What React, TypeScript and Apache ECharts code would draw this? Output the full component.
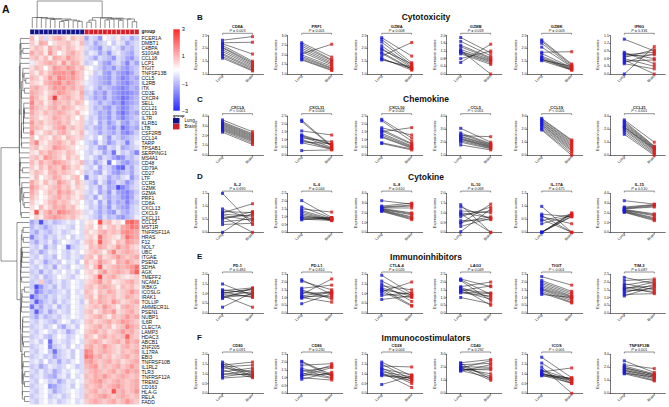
import React, { useEffect, useRef } from 'react';
import * as echarts from 'echarts';

const FONT = '"Liberation Sans", Arial, Helvetica, sans-serif';
const BLUE_PT = '#1c1ce0';
const RED_PT = '#e21c1c';
const SCALE_COLORS = ['#2a2aff', '#ffffff', '#ff2a2a'];

// ---------- Panel A : heatmap ----------
const genes = [
  'FCER1A', 'DMBT1', 'C4BPA', 'S100A8', 'CCL18', 'LCP1', 'TIGIT', 'TNFSF13B', 'CCL5', 'IL2RB',
  'ITK', 'CD3E', 'CXCR4', 'SELL', 'CCL21', 'CCL19', 'IL7R', 'KLRB1', 'LTB', 'CSF2RB',
  'CCL14', 'TARP', 'TPSAB1', 'SERPING1', 'MS4A1', 'CD48', 'CD79A', 'CD27', 'LTF', 'CCR5',
  'GZMK', 'GZMA', 'PRF1', 'CD8A', 'CXCL13', 'CXCL9', 'CXCL11', 'CCL15', 'MST1R', 'TNFRSF11A',
  'HRAS', 'F12', 'NOL7', 'UBC', 'ITGAE', 'PSEN2', 'SDHA', 'AGK', 'TMEFF2', 'NCAM1',
  'IKBKG', 'ICOSLG', 'IRAK1', 'TOLLIP', 'AMMECR1L', 'PSEN1', 'NUBP1', 'IL6R', 'CLEC7A', 'LAMP3',
  'HDAC3', 'ABCB1', 'ZNF205', 'IL17RA', 'EBI3', 'TNFRSF10B', 'IL1RL2', 'TLR3', 'TNFRSF12A', 'TREM2',
  'CD163', 'HLA-G', 'RELA', 'FADD',
];

const sampleNames = [
  'L1', 'L2', 'L3', 'L4', 'L5', 'L6', 'L7', 'L8', 'L9', 'L10', 'L11', 'L12',
  'B1', 'B2', 'B3', 'B4', 'B5', 'B6', 'B7', 'B8', 'B9', 'B10', 'B11', 'B12',
];
const sampleGroups = [
  'Lung', 'Lung', 'Lung', 'Lung', 'Lung', 'Lung', 'Lung', 'Lung', 'Lung', 'Lung', 'Lung', 'Lung',
  'Brain', 'Brain', 'Brain', 'Brain', 'Brain', 'Brain', 'Brain', 'Brain', 'Brain', 'Brain', 'Brain', 'Brain',
];
const scaleTicks = [-3, -1, 1, 3];

// one letter per cell: a = -3 ... m = 0 ... y = +3 (steps of 0.25); first 12 = lung, last 12 = brain
const LEVELS = 'abcdefghijklmnopqrstuvwxy';
const heatRows = [
  'qmpkoqrpnqop hkjgmlknjkhj', 'pnrqmoppqonq jkhjkmjlkhjk', 'oqpnrpqoqpno kjigkjlkhjik', 'rpqnspmoqrpo jlkhjgkljihk',
  'pqoqnrqpsqpo kjhkjigkjhgj', 'lopqrqosprqo jkmjhgjkifjh', 'oqpmpsrqsrpq nmkjhigjhgij', 'pnqoqsssrtqp mnjkhgjhgfhj',
  'qpnpsqtsrsqp mkjihgjhfgih', 'ponqrstqsrpo lkjihgjhgfhi', 'qrpoqsrsqrpq kljhjihgfgih', 'rqpnpqsrqpor jkhigjhgffgh',
  'sqonqxpqrpoq kjhigjhgefhi', 'tpqnprqpqoqp mkjhjigheghi', 'sqpoqrprqpno nkijhgjhfgij', 'rpoqpqrqpoqn mkjhigjgegih',
  'qpnoprqpqomp ljkhigjhfhij', 'spqopqrpqnop kjlhjgikhgji', 'rqpnoqrspqop jkihjhgjegih', 'tonpqoqrpnoq lkjhjihjgfhj',
  'qmponqpnqpop kljmjgkjhijk', 'qtonpqrpoqnm kjhljgikjfjl', 'pqnopsrqpomn ljkhgkjlhijk', 'onqprqpoqpnm kjlkhjeljkif',
  'pqosrqpnqopm kljhkjhfgjik', 'qorpqsrqpnoq jkhjlemjhgij', 'pnqorqpsqopn kjlhkjhedjhk', 'oqpnqrpqpomo jkihljhgijhk',
  'nqmoprqonpqm fkjlkhjiklgj', 'rpnqopsqpnqo kjhljgikjgik', 'sqonpqrpqnpo ljkhkhicfhjk', 'rpmoqpsqrpno kjlhjgkhgfhj',
  'qomnpqrpqonp jkhljhjigfhk', 'pnmoqrpqpnom kjlhkgjhifij', 'omqnprqrpqnm ljkhjgkihgjk', 'nwoqsqtsrqpo kljhjhgkihjk',
  'mpnqrsrqpqon lkjhkijhgijl',
  'hjcjkijklkmk nomwpqnomuvt', 'ikjhjkllkjmk opmqnpqorsut', 'jhkjikljklmk pnoqrpqpstsr', 'fjkikjlkmjlk opnuqponqusr',
  'jhkjlikmlkjl pqovqpnqpsrq', 'kjlhkjmlejkl nqprqopsqrpo', 'jkhjlkmkjlkm opqpnqtpqrqp', 'kjljkimkjlkj pqnropqsqpqr',
  'jlkhjkjmkljm qopsqpnrqsqp', 'kjljkhlkjmlk pnqvopqrqrsu', 'jkhkjlkmkljm opnqspqrqpsv', 'kjlijkmlkjlm noqwpqrponop',
  'jkpjikljkmlk opqspqnopqrp', 'jcgjkiljkmlk pqoqrqpnqpqo', 'kehjijkljmkl qpnqprqopqsq', 'dhjikjlkjmlk pqnrqpqoprqp',
  'jdhjkiljkmlj nqprqpsqopqr', 'ejhkjlikjmlk opqpsqpnqrqp', 'jdikhjlkjmlk pqnprqsopqrp', 'jhkijkjlkmlk opqrpnqpqsqr',
  'kjlkjikmljkl pqopqrpqsrqp', 'jkljkmjhkljm opqrpqnpqtrq', 'kjlmkjlkhjlm pqrpqopqsqrp', 'jkljikmljkml qpnqrpqpqvqp',
  'kljmeklkjlmk pqrqopqrpsqr', 'jklmfjkljmkl qrpqsqpoqrpq', 'kjlmjejkljmk tspqrqpoqpqr', 'jkljkhjkljmk utqrpqopqrpq',
  'kljmjkhkjlmk rsqpqrpqopqr', 'jkhjlkjkmljk qrspqpqrpqsq', 'kjljkhjlkmlk pqrqpqrpqsqr', 'jkljihkljmkl qprqsqpqrqpq',
  'kjmljkhjlkml pqrsqpqrqpqr', 'jklmghjkljmk qpqrpqrsqpqr', 'kjlmkhjklmlk pqrpqpwqrpqs', 'jklmjkljkmlk qpqrsqpqrqpq',
  'kjlmkljklmkl pqrqpqrpqsqp',
];

// ---------- Panels B-F ----------
const rowLetters = ['B', 'C', 'D', 'E', 'F'];
const rowTitles = ['Cytotoxicity', 'Chemokine', 'Cytokine', 'Immunoinhibitors', 'Immunocostimulators'];
const panelGenes = [
  ['CD8A', 'PRF1', 'GZMA', 'GZMB', 'GZMK', 'IFNG'],
  ['CXCL9', 'CXCL11', 'CXCL10', 'CCL5', 'CCL19', 'CCL21'],
  ['IL-2', 'IL-6', 'IL-8', 'IL-10', 'IL-17A', 'IL-15'],
  ['PD-1', 'PD-L1', 'CTLA-4', 'LAG3', 'TIGIT', 'TIM-3'],
  ['CD80', 'CD86', 'CD28', 'CD40', 'ICOS', 'TNFSF13B'],
];
const panelP = [
  ['= 0.003', '= 0.001', '= 0.008', '= 0.018', '= 0.003', '= 0.336'],
  ['< 0.001', '= 0.004', '= 0.002', '< 0.001', '< 0.001', '< 0.001'],
  ['= 0.690', '= 0.044', '= 0.610', '= 0.068', '= 0.675', '= 0.510'],
  ['= 0.484', '= 0.810', '= 0.026', '= 0.049', '< 0.001', '= 0.087'],
  ['= 0.091', '= 0.230', '= 0.004', '= 0.292', '< 0.001', '= 0.001'],
];
// [min, max, interval]
const panelAxes = [
  [[1, 2.5, 0.5], [1, 3, 0.5], [1, 2.5, 0.5], [0, 2, 0.4], [1, 2.5, 0.5], [0, 1.5, 0.3]],
  [[0, 4, 1], [0, 2.5, 0.5], [0, 2.5, 0.5], [1, 4, 1], [0, 3, 1], [0, 3, 1]],
  [[0, 1.5, 0.5], [0, 2.5, 0.5], [0, 4, 1], [0, 2, 0.5], [0, 1.5, 0.5], [0, 4, 1]],
  [[0, 2, 0.5], [0, 2.5, 0.5], [0, 2, 0.5], [0, 2.5, 0.5], [0, 2.5, 0.5], [0, 2.5, 0.5]],
  [[0, 2, 0.5], [0, 2.5, 0.5], [0, 2, 0.5], [0, 3, 1], [0, 2, 0.5], [0, 3, 1]],
];

const lungB = [
  [2.32, 2.22, 2.18, 2.12, 2.05, 2.02, 1.95, 1.88, 1.80, 1.75, 1.68, 1.62],
  [2.63, 2.55, 2.45, 2.35, 2.25, 2.15, 2.05, 2.0, 1.92, 1.85, 1.78, 1.73],
  [2.42, 2.35, 2.25, 2.1, 2.0, 1.95, 1.85, 1.8, 1.7, 1.62, 1.58, 1.55],
  [1.90, 1.70, 1.50, 1.42, 1.28, 1.22, 1.18, 1.15, 1.10, 1.05, 0.80, 0.60],
  [2.33, 2.28, 2.20, 2.05, 1.85, 1.80, 1.70, 1.65, 1.60, 1.58, 1.55, 1.52],
  [1.36, 0.85, 0.80, 0.75, 0.70, 0.65, 0.60, 0.55, 0.50, 0.45, 0.40, 0.0],
];
const brainB = [
  [2.46, 2.24, 1.78, 1.50, 1.45, 1.40, 1.35, 1.30, 1.25, 1.20, 1.15, 1.12],
  [1.88, 1.75, 1.70, 1.62, 1.55, 1.48, 2.55, 1.40, 1.32, 1.28, 1.22, 1.18],
  [1.70, 1.44, 1.35, 1.30, 1.25, 1.40, 1.20, 1.18, 2.23, 1.15, 1.22, 1.28],
  [1.10, 0.95, 0.85, 0.80, 0.75, 0.0, 0.70, 0.65, 0.58, 0.50, 1.20, 1.55],
  [1.39, 1.35, 1.30, 1.28, 1.87, 1.25, 1.22, 1.20, 1.18, 1.16, 1.30, 1.15],
  [0.90, 0.40, 0.60, 0.85, 0.75, 0.95, 0.30, 0.0, 0.55, 0.80, 0.20, 1.07],
];
const lungC = [
  [3.6, 3.4, 3.3, 3.2, 3.1, 3.0, 2.9, 2.8, 2.7, 2.6, 2.5, 2.35],
  [2.24, 2.15, 1.55, 1.30, 1.25, 1.20, 1.10, 1.0, 0.95, 0.85, 0.80, 0.30],
  [2.29, 2.20, 1.75, 1.65, 1.55, 1.50, 1.40, 1.30, 1.20, 1.15, 0.80, 0.75],
  [3.06, 2.70, 2.60, 2.50, 2.45, 2.40, 2.30, 2.25, 2.20, 2.10, 2.0, 1.79],
  [2.82, 2.75, 2.65, 2.6, 2.5, 2.45, 2.35, 2.3, 2.2, 2.1, 2.0, 1.93],
  [2.7, 2.6, 2.5, 2.4, 2.3, 2.2, 2.15, 2.1, 2.0, 1.9, 1.75, 1.6],
];
const brainC = [
  [2.4, 2.2, 2.1, 2.0, 1.9, 1.8, 1.7, 1.6, 1.5, 1.4, 1.25, 1.1],
  [0.60, 0.55, 1.29, 0.70, 0.65, 0.50, 0.87, 0.45, 0.40, 0.75, 0.38, 0.34],
  [1.10, 0.90, 1.29, 0.75, 0.70, 1.76, 0.60, 0.55, 0.50, 0.45, 0.40, 0.34],
  [2.0, 1.9, 1.85, 2.42, 1.8, 1.75, 1.7, 1.65, 1.6, 1.55, 1.5, 1.41],
  [1.17, 1.1, 1.0, 0.9, 0.8, 0.7, 0.6, 0.5, 0.4, 0.3, 0.15, 0.0],
  [1.0, 0.7, 0.65, 0.6, 0.55, 0.5, 0.45, 0.4, 0.3, 0.2, 0.1, 0.0],
];
const lungD = [
  [1.5, 0.9, 0.8, 0.75, 0.7, 0.65, 0.6, 0.55, 0.5, 0.4, 0.3, 0.0],
  [2.04, 1.63, 1.50, 1.40, 1.30, 1.20, 1.10, 1.0, 0.95, 0.9, 0.85, 0.8],
  [3.25, 2.70, 2.60, 2.55, 2.50, 2.45, 2.40, 2.35, 2.30, 2.25, 2.20, 2.15],
  [1.42, 1.30, 1.10, 1.00, 0.95, 0.90, 0.80, 0.60, 0.50, 0.45, 0.30, 0.03],
  [1.0, 0.70, 0.65, 0.60, 0.50, 0.45, 0.33, 0.0, 0.0, 0.0, 0.0, 0.0],
  [3.25, 2.6, 2.5, 2.45, 2.4, 2.35, 2.3, 2.25, 2.2, 2.15, 2.1, 2.05],
];
const brainD = [
  [0.30, 0.50, 0.76, 1.10, 0.62, 0.45, 0.0, 0.68, 0.80, 0.52, 0.35, 0.75],
  [0.95, 0.90, 1.30, 0.85, 0.80, 0.78, 0.75, 0.92, 0.88, 0.82, 0.76, 0.95],
  [2.9, 3.0, 2.8, 2.7, 2.5, 2.0, 1.9, 1.8, 1.6, 1.5, 1.4, 1.3],
  [0.0, 0.70, 1.00, 0.75, 0.0, 1.10, 1.30, 0.65, 0.80, 1.45, 0.72, 1.20],
  [0.0, 0.60, 0.0, 0.33, 0.0, 0.70, 0.65, 0.75, 0.60, 0.72, 0.68, 0.62],
  [2.9, 2.85, 2.8, 2.7, 2.6, 1.9, 1.8, 1.7, 1.5, 1.4, 1.3, 1.2],
];
const lungE = [
  [1.5, 1.2, 1.15, 1.1, 1.05, 1.0, 0.95, 0.9, 0.85, 0.8, 0.75, 0.3],
  [2.15, 2.05, 1.6, 1.5, 1.4, 1.3, 1.2, 1.1, 1.05, 1.0, 0.95, 0.6],
  [1.95, 1.65, 1.5, 1.4, 1.3, 1.25, 1.2, 1.15, 1.1, 1.0, 0.9, 0.7],
  [2.2, 2.15, 2.1, 1.7, 1.65, 1.6, 1.5, 1.45, 1.4, 1.35, 1.3, 1.0],
  [2.35, 2.1, 2.0, 1.9, 1.8, 1.7, 1.6, 1.55, 1.5, 1.4, 1.3, 1.2],
  [2.3, 2.1, 1.9, 1.8, 1.7, 1.6, 1.55, 1.5, 1.4, 1.3, 1.2, 1.1],
];
const brainE = [
  [0.9, 1.0, 1.3, 0.8, 1.2, 1.25, 0.85, 0.3, 1.1, 0.95, 1.28, 1.05],
  [1.2, 1.5, 1.8, 0.9, 1.0, 1.3, 2.2, 1.4, 1.1, 0.7, 1.35, 1.25],
  [1.0, 0.9, 0.6, 1.2, 0.85, 0.4, 0.95, 0.35, 1.6, 0.8, 1.05, 0.88],
  [1.7, 1.2, 0.8, 2.0, 1.0, 0.5, 1.3, 1.75, 0.9, 1.25, 1.1, 0.6],
  [1.8, 1.4, 1.3, 1.2, 1.1, 1.05, 1.0, 0.9, 0.8, 0.7, 0.65, 1.0],
  [1.9, 2.2, 1.5, 2.1, 1.3, 1.75, 2.0, 1.4, 1.6, 1.85, 1.25, 1.7],
];
const lungF = [
  [1.6, 1.5, 1.45, 1.4, 1.35, 1.3, 1.2, 1.1, 1.0, 0.95, 0.85, 0.78],
  [2.05, 2.0, 1.8, 1.6, 1.5, 1.4, 1.3, 1.2, 1.15, 1.1, 1.0, 0.9],
  [1.6, 1.5, 1.4, 1.3, 1.25, 1.2, 1.1, 1.05, 1.0, 0.95, 0.9, 0.45],
  [2.35, 2.3, 2.2, 2.1, 2.05, 2.0, 1.95, 1.9, 1.85, 1.8, 1.75, 1.7],
  [1.85, 1.55, 1.35, 1.2, 1.15, 1.1, 1.05, 1.0, 0.98, 0.95, 0.92, 0.9],
  [2.5, 2.2, 2.1, 2.0, 1.95, 1.9, 1.8, 1.75, 1.7, 1.6, 1.55, 1.5],
];
const brainF = [
  [1.0, 0.9, 1.6, 0.85, 1.45, 1.1, 0.8, 1.3, 0.95, 1.2, 1.05, 0.88],
  [1.2, 1.1, 1.9, 1.15, 1.0, 1.7, 0.95, 1.8, 1.25, 1.65, 0.85, 1.35],
  [0.9, 0.7, 1.35, 0.6, 0.95, 0.5, 0.85, 0.3, 0.75, 0.65, 0.8, 0.9],
  [2.6, 1.1, 2.3, 1.3, 2.0, 1.0, 2.5, 1.5, 1.8, 1.9, 1.2, 2.2],
  [0.8, 0.6, 0.0, 0.7, 0.55, 1.3, 0.5, 0.75, 0.65, 0.78, 0.52, 0.72],
  [1.6, 1.9, 1.5, 1.4, 1.45, 1.3, 1.2, 1.35, 1.1, 1.0, 1.25, 0.95],
];
const lungRows = [lungB, lungC, lungD, lungE, lungF];
const brainRows = [brainB, brainC, brainD, brainE, brainF];

// ---------- layout ----------
const LUNG_X = 14;
const BRAIN_X = 44;
const X_MAX = 55;
const panelLeft = [208.5, 287.7, 367.7, 446.7, 527.7, 610.3];
const rowTop = [35.6, 116, 193.4, 274.3, 354.3];
const rowHeight = [38.4, 39.3, 38.9, 38.7, 39];
const rowTitleY = [17, 99, 176.5, 256.5, 337.5];

// contiguous (order-preserving) average-linkage clustering for the dendrograms
function clusterLinks(vecs: number[][]) {
  const n = vecs.length;
  const D: number[][] = [];
  for (let i = 0; i < n; i++) {
    D.push([]);
    for (let j = 0; j < n; j++) {
      let s = 0;
      for (let k = 0; k < vecs[i].length; k++) s += (vecs[i][k] - vecs[j][k]) ** 2;
      D[i].push(Math.sqrt(s));
    }
  }
  let clusters = vecs.map((_, i) => ({ members: [i], pos: i, h: 0 }));
  const links: number[][] = [];
  while (clusters.length > 1) {
    let best = 0;
    let bestD = Infinity;
    for (let i = 0; i < clusters.length - 1; i++) {
      const A = clusters[i].members;
      const B = clusters[i + 1].members;
      let s = 0;
      for (const a of A) for (const b of B) s += D[a][b];
      const d = s / (A.length * B.length);
      if (d < bestD) {
        bestD = d;
        best = i;
      }
    }
    const A = clusters[best];
    const B = clusters[best + 1];
    const h = Math.max(bestD, A.h, B.h);
    links.push([A.pos, A.h, B.pos, B.h, h]);
    clusters.splice(best, 2, { members: [...A.members, ...B.members], pos: (A.pos + B.pos) / 2, h });
  }
  return { links, root: clusters[0].h };
}

function buildOption() {
  const matrix = heatRows.map((r) =>
    r.replace(/\s/g, '').split('').map((ch) => (LEVELS.indexOf(ch) - 12) / 4)
  );
  const heatData: number[][] = [];
  matrix.forEach((row, r) => row.forEach((v, c) => heatData.push([c, r, v])));
  const colVecs = sampleNames.map((_, c) => matrix.map((row) => row[c]));
  const rowDen = clusterLinks(matrix);
  const colDen = clusterLinks(colVecs);
  const sMin = scaleTicks[0];
  const sMax = scaleTicks[scaleTicks.length - 1];

  const grids: any[] = [];
  const xAxes: any[] = [];
  const yAxes: any[] = [];
  const series: any[] = [];
  const hidden = { show: false };

  // grid 0: heatmap
  grids.push({ left: 30, top: 36, width: 109, height: 368, outerBoundsMode: 'none' });
  xAxes.push({ gridIndex: 0, type: 'category', data: sampleNames, show: false });
  yAxes.push({
    gridIndex: 0, type: 'category', data: genes, inverse: true, position: 'right',
    axisLine: hidden, axisTick: hidden, splitLine: hidden,
    axisLabel: { fontSize: 5, margin: 2.5, interval: 0, color: '#111', fontFamily: FONT },
  });
  series.push({
    type: 'heatmap', xAxisIndex: 0, yAxisIndex: 0, data: heatData,
    itemStyle: { borderColor: '#d9d9d9', borderWidth: 0.3 }, emphasis: { disabled: true }, silent: true,
  });

  // grid 1: group bar
  grids.push({ left: 30, top: 29.3, width: 109, height: 5.2, outerBoundsMode: 'none' });
  xAxes.push({ gridIndex: 1, type: 'category', data: sampleNames, show: false });
  yAxes.push({
    gridIndex: 1, type: 'category', data: ['group'], position: 'right',
    axisLine: hidden, axisTick: hidden, splitLine: hidden,
    axisLabel: { fontSize: 4.8, fontWeight: 'bold', margin: 2.5, color: '#111', fontFamily: FONT },
  });
  const groupColors: Record<string, string> = { Lung: '#13138c', Brain: '#d21f29' };
  ['Lung', 'Brain'].forEach((g) => {
    series.push({
      type: 'custom', name: g, xAxisIndex: 1, yAxisIndex: 1,
      itemStyle: { color: groupColors[g] },
      data: sampleGroups.map((sg, i) => (sg === g ? [i, 0] : null)).filter((d) => d),
      renderItem: (params: any, api: any) => {
        const c = api.coord([api.value(0), api.value(1)]);
        const s = api.size([1, 1]);
        return {
          type: 'rect',
          shape: { x: c[0] - s[0] / 2, y: c[1] - s[1] / 2, width: s[0], height: s[1] },
          style: { fill: groupColors[g], stroke: '#ffffff', lineWidth: 0.4 },
        };
      },
      silent: true,
    });
  });

  // grid 2: top dendrogram
  grids.push({ left: 30, top: 1, width: 109, height: 27, outerBoundsMode: 'none' });
  xAxes.push({ gridIndex: 2, type: 'value', min: -0.5, max: 23.5, show: false });
  yAxes.push({ gridIndex: 2, type: 'value', min: 0, max: colDen.root, show: false });
  series.push({
    type: 'custom', xAxisIndex: 2, yAxisIndex: 2, data: colDen.links, silent: true,
    renderItem: (params: any, api: any) => {
      const p1 = api.value(0), h1 = api.value(1), p2 = api.value(2), h2 = api.value(3), h = api.value(4);
      return {
        type: 'polyline',
        shape: { points: [api.coord([p1, h1]), api.coord([p1, h]), api.coord([p2, h]), api.coord([p2, h2])] },
        style: { stroke: '#4a4a4a', lineWidth: 0.6, fill: 'none' },
      };
    },
  });

  // grid 3: left dendrogram
  grids.push({ left: 1, top: 36, width: 28.5, height: 368, outerBoundsMode: 'none' });
  xAxes.push({ gridIndex: 3, type: 'value', min: 0, max: rowDen.root, inverse: true, show: false });
  yAxes.push({ gridIndex: 3, type: 'value', min: -0.5, max: 73.5, inverse: true, show: false });
  series.push({
    type: 'custom', xAxisIndex: 3, yAxisIndex: 3, data: rowDen.links, silent: true,
    renderItem: (params: any, api: any) => {
      const p1 = api.value(0), h1 = api.value(1), p2 = api.value(2), h2 = api.value(3), h = api.value(4);
      return {
        type: 'polyline',
        shape: { points: [api.coord([h1, p1]), api.coord([h, p1]), api.coord([h, p2]), api.coord([h2, p2])] },
        style: { stroke: '#4a4a4a', lineWidth: 0.6, fill: 'none' },
      };
    },
  });

  // grid 4: colour bar with its value axis
  grids.push({ left: 173.3, top: 29.3, width: 6.5, height: 81.4, outerBoundsMode: 'none' });
  xAxes.push({ gridIndex: 4, type: 'value', min: 0, max: 1, show: false });
  yAxes.push({
    gridIndex: 4, type: 'value', min: sMin, max: sMax, position: 'right',
    axisLine: hidden, axisTick: hidden, splitLine: hidden,
    axisLabel: {
      customValues: scaleTicks, fontSize: 5.6, margin: 2, color: '#111', fontFamily: FONT,
      formatter: (v: number) => (v < 0 ? '\u2212' + Math.abs(v) : String(v)),
    },
  });
  series.push({
    type: 'custom', xAxisIndex: 4, yAxisIndex: 4, data: [[0, sMax]], silent: true,
    renderItem: (params: any, api: any) => {
      const tl = api.coord([0, sMax]);
      const br = api.coord([1, sMin]);
      return {
        type: 'rect',
        shape: { x: tl[0], y: tl[1], width: br[0] - tl[0], height: br[1] - tl[1] },
        style: {
          fill: {
            type: 'linear', x: 0, y: 0, x2: 0, y2: 1,
            colorStops: [
              { offset: 0, color: SCALE_COLORS[2] },
              { offset: 0.5, color: SCALE_COLORS[1] },
              { offset: 1, color: SCALE_COLORS[0] },
            ],
          },
        },
      };
    },
  });

  // small paired plots
  for (let r = 0; r < 5; r++) {
    for (let c = 0; c < 6; c++) {
      const gi = grids.length;
      const [mn, mx, step] = panelAxes[r][c];
      grids.push({ left: panelLeft[c], top: rowTop[r], width: X_MAX, height: rowHeight[r], outerBoundsMode: 'none' });
      xAxes.push({
        gridIndex: gi, type: 'value', min: 0, max: X_MAX,
        axisLine: { show: true, lineStyle: { color: '#1a1a1a', width: 0.6 } },
        axisTick: { show: true, customValues: [LUNG_X, BRAIN_X], length: 1.5, lineStyle: { color: '#1a1a1a', width: 0.5 } },
        axisLabel: {
          customValues: [LUNG_X, BRAIN_X], rotate: 45, fontSize: 3.8, margin: 1.5, color: '#111', fontFamily: FONT,
          formatter: (v: number) => (v === LUNG_X ? 'Lung' : 'Brain'),
        },
        splitLine: hidden,
      });
      yAxes.push({
        gridIndex: gi, type: 'value', min: mn, max: mx, interval: step,
        name: 'Expression scores', nameLocation: 'middle', nameGap: 9.5,
        nameTextStyle: { fontSize: 3.7, color: '#111', fontFamily: FONT },
        axisLine: { show: true, lineStyle: { color: '#1a1a1a', width: 0.6 } },
        axisTick: { show: true, length: 1.3, lineStyle: { color: '#1a1a1a', width: 0.5 } },
        axisLabel: { fontSize: 3.6, margin: 1.3, color: '#111', fontFamily: FONT, formatter: (v: number) => v.toFixed(1) },
        splitLine: hidden,
      });
      const L = lungRows[r][c];
      const B = brainRows[r][c];
      L.forEach((lv, k) => {
        series.push({
          type: 'line', xAxisIndex: gi, yAxisIndex: gi, data: [[LUNG_X, lv], [BRAIN_X, B[k]]],
          symbol: 'none', lineStyle: { color: '#1b1b1b', width: 0.55 }, silent: true, clip: false, z: 2,
        });
      });
      series.push({
        type: 'scatter', xAxisIndex: gi, yAxisIndex: gi, data: L.map((v) => [LUNG_X, v]),
        symbol: 'rect', symbolSize: 3, itemStyle: { color: BLUE_PT }, silent: true, clip: false, z: 3,
      });
      series.push({
        type: 'scatter', xAxisIndex: gi, yAxisIndex: gi, data: B.map((v) => [BRAIN_X, v]),
        symbol: 'rect', symbolSize: 3, itemStyle: { color: RED_PT }, silent: true, clip: false, z: 3,
      });
      const gene = panelGenes[r][c];
      const p = panelP[r][c];
      series.push({
        type: 'custom', xAxisIndex: gi, yAxisIndex: gi, data: [[LUNG_X, mx]], silent: true, z: 4,
        renderItem: (params: any, api: any) => {
          const a = api.coord([LUNG_X, mx]);
          const b = api.coord([BRAIN_X, mx]);
          const by = a[1] - 2.3;
          const cx = (a[0] + b[0]) / 2;
          return {
            type: 'group',
            children: [
              {
                type: 'polyline',
                shape: { points: [[a[0], by + 1.4], [a[0], by], [b[0], by], [b[0], by + 1.4]] },
                style: { stroke: '#222', lineWidth: 0.5, fill: 'none' },
              },
              {
                type: 'text', x: cx, y: by - 0.5,
                style: {
                  text: '{i|P} ' + p, fontSize: 3.7, fontFamily: FONT, fill: '#222',
                  align: 'center', verticalAlign: 'bottom',
                  rich: { i: { fontStyle: 'italic', fontSize: 3.7, fontFamily: FONT, fill: '#222' } },
                },
              },
              {
                type: 'text', x: cx, y: by - 4.4,
                style: {
                  text: gene, fontSize: 4, fontWeight: 'bold', fontFamily: FONT, fill: '#111',
                  align: 'center', verticalAlign: 'bottom',
                },
              },
            ],
          };
        },
      });
    }
  }

  const graphics: any[] = [
    { type: 'text', x: 2, y: 9, style: { text: 'A', fontSize: 10.5, fontWeight: 'bold', fontFamily: FONT, fill: '#111', verticalAlign: 'middle' } },
    { type: 'text', x: 173, y: 115.6, style: { text: 'group', fontSize: 4, fontWeight: 'bold', fontFamily: FONT, fill: '#111', verticalAlign: 'middle' } },
  ];
  rowLetters.forEach((l, r) => {
    graphics.push({ type: 'text', x: 197, y: rowTitleY[r], style: { text: l, fontSize: 8, fontWeight: 'bold', fontFamily: FONT, fill: '#111', verticalAlign: 'middle' } });
    graphics.push({ type: 'text', x: 426, y: rowTitleY[r], style: { text: rowTitles[r], fontSize: 8.5, fontWeight: 'bold', fontFamily: FONT, fill: '#111', align: 'center', verticalAlign: 'middle' } });
  });

  return {
    animation: false,
    backgroundColor: '#ffffff',
    textStyle: { fontFamily: FONT },
    grid: grids,
    xAxis: xAxes,
    yAxis: yAxes,
    visualMap: {
      type: 'continuous', min: sMin, max: sMax, seriesIndex: 0, show: false,
      inRange: { color: SCALE_COLORS },
    },
    legend: {
      data: ['Lung', 'Brain'], orient: 'vertical', left: 173, top: 118, padding: 0,
      itemWidth: 6.5, itemHeight: 5.6, itemGap: 0.2, icon: 'rect', selectedMode: false,
      textStyle: { fontSize: 4.6, color: '#111', fontFamily: FONT },
    },
    graphic: graphics,
    series,
  };
}

export default function App() {
  const ref = useRef<HTMLDivElement>(null);
  useEffect(() => {
    const chart = echarts.init(ref.current as HTMLDivElement, null, { renderer: 'svg' });
    chart.setOption(buildOption() as any);
    return () => chart.dispose();
  }, []);
  return (
    <div
      ref={ref}
      style={{ position: 'fixed', left: 0, top: 0, width: 669, height: 407, background: '#ffffff' }}
    />
  );
}
